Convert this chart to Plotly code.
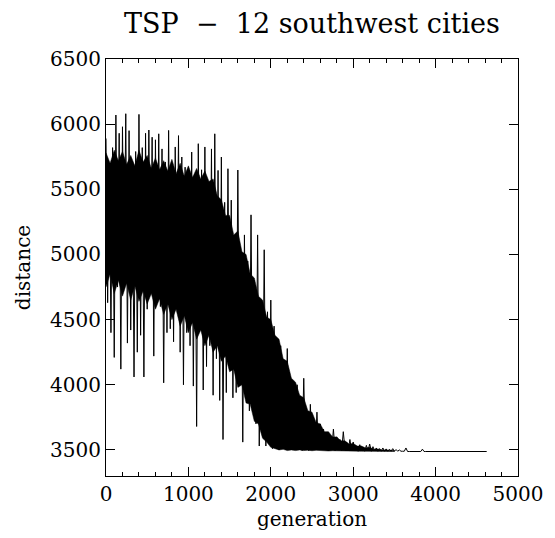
import plotly.graph_objects as go

title_text = "TSP\u00a0\u00a0\u2212\u00a0\u00a012 southwest cities"
x_label = "generation"
y_label = "distance"

# generation index of each sample (every 20 generations)
generation = list(range(0, 4621, 20))

# best tour distance (alternating upper / lower excursions)
distance = [
    5890, 4630, 5700, 4400, 5820, 4210, 6070, 4750, 5930, 4120,
    5980, 4820, 6080, 4320, 5950, 4420, 5700, 4060, 5790, 4250,
    6075, 4380, 5820, 4060, 5930, 4580, 5955, 4780, 5900, 4220,
    5880, 4700, 5926, 4600, 5810, 4015, 5710, 4400, 5952, 4430,
    5700, 4330, 5825, 4650, 5912, 4250, 5748, 4000, 5670, 4400,
    5620, 4300, 5786, 3990, 5600, 3680, 5850, 4450, 5650, 3960,
    5825, 4140, 5550, 4300, 5810, 3920, 5926, 4200, 5645, 3880,
    5748, 3580, 5400, 3940, 5658, 4150, 5417, 3900, 5110, 3940,
    5648, 4000, 5000, 3560, 5150, 3940, 4950, 3800, 5304, 3850,
    4800, 3700, 5150, 3530, 4650, 3620, 5036, 3530, 4560, 3580,
    4650, 3510, 4450, 3560, 4334, 3500, 4300, 3540, 4150, 3505,
    4278, 3500, 4050, 3530, 3950, 3500, 4000, 3520, 3900, 3495,
    4050, 3510, 3760, 3495, 3850, 3520, 3720, 3500, 3790, 3505,
    3700, 3500, 3660, 3510, 3620, 3495, 3600, 3505, 3660, 3495,
    3600, 3500, 3580, 3495, 3640, 3505, 3560, 3495, 3580, 3500,
    3561, 3495, 3530, 3490, 3540, 3495, 3520, 3490, 3535, 3492,
    3545, 3490, 3525, 3492, 3515, 3490, 3510, 3490, 3515, 3490,
    3508, 3490, 3505, 3490, 3510, 3490, 3503, 3490, 3500, 3490,
    3490, 3490, 3515, 3488, 3488, 3488, 3488, 3488, 3488, 3488,
    3488, 3488, 3506, 3488, 3488, 3488, 3488, 3488, 3488, 3488,
    3488, 3488, 3488, 3488, 3488, 3488, 3488, 3488, 3488, 3488,
    3488, 3488, 3488, 3488, 3488, 3488, 3488, 3488, 3488, 3488,
    3488, 3488, 3488, 3488, 3488, 3488, 3488, 3488, 3488, 3488,
    3488, 3488,
]

# dense core of the oscillation (solid black band), read every 50 generations
core_gen = list(range(0, 3501, 50))
core_upper = [
    5780, 5700, 5800, 5720, 5790, 5690, 5760, 5680, 5800, 5710,
    5760, 5660, 5740, 5650, 5720, 5640, 5730, 5620, 5700, 5600,
    5680, 5590, 5660, 5580, 5640, 5560, 5580, 5450, 5420, 5300,
    5300, 5150, 5180, 5020, 5000, 4850, 4820, 4680, 4650, 4520,
    4500, 4380, 4350, 4200, 4180, 4050, 4020, 3920, 3900, 3800,
    3790, 3710, 3700, 3640, 3640, 3600, 3600, 3570, 3570, 3545,
    3550, 3530, 3530, 3515, 3520, 3505, 3508, 3500, 3500, 3495,
    3495,
]
core_lower = [
    4750, 4850, 4700, 4800, 4680, 4780, 4650, 4760, 4640, 4720,
    4620, 4700, 4580, 4660, 4540, 4620, 4500, 4580, 4450, 4530,
    4400, 4480, 4350, 4420, 4300, 4380, 4250, 4300, 4180, 4220,
    4100, 4120, 3980, 4000, 3860, 3850, 3720, 3700, 3590, 3560,
    3520, 3510, 3500, 3505, 3495, 3500, 3495, 3500, 3495, 3498,
    3494, 3497, 3493, 3495, 3492, 3494, 3491, 3493, 3490, 3492,
    3490, 3491, 3490, 3490, 3490, 3490, 3490, 3490, 3490, 3489,
    3488,
]

x_ticks = [0, 1000, 2000, 3000, 4000, 5000]
y_ticks = [3500, 4000, 4500, 5000, 5500, 6000, 6500]

FONT = "DejaVu Serif"

fig = go.Figure()
fig.add_trace(go.Scatter(
    x=core_gen + core_gen[::-1], y=core_upper + core_lower[::-1],
    mode="lines", fill="toself", fillcolor="black",
    line=dict(color="black", width=0.5),
    showlegend=False, hoverinfo="skip",
))
fig.add_trace(go.Scatter(
    x=generation, y=distance, mode="lines",
    line=dict(color="black", width=1),
    showlegend=False, hoverinfo="skip",
))

axis_common = dict(
    showline=True, linecolor="black", linewidth=1, mirror="ticks",
    ticks="inside", tickcolor="black", tickwidth=1,
    showgrid=False, zeroline=False,
    tickfont=dict(family=FONT, size=20, color="black"),
)

fig.update_layout(
    width=547, height=530,
    margin=dict(l=98, r=31, t=51, b=61),
    paper_bgcolor="white", plot_bgcolor="white",
    title=dict(text=title_text, x=0.5, xanchor="center", xref="paper",
               yref="container", y=1 - 25 / 530, yanchor="bottom",
               font=dict(family=FONT, size=27, color="black")),
    xaxis=dict(
        range=[0, 5000], tickvals=x_ticks, ticklen=9,
        minor=dict(dtick=200, ticklen=4, ticks="inside", tickcolor="black", showgrid=False),
        title=dict(text=x_label, standoff=6, font=dict(family=FONT, size=20, color="black")),
        **axis_common,
    ),
    yaxis=dict(
        range=[3300, 6500], tickvals=y_ticks, ticklen=9,
        title=dict(text=y_label, standoff=14, font=dict(family=FONT, size=20, color="black")),
        **axis_common,
    ),
)

fig.write_html("out.html")
